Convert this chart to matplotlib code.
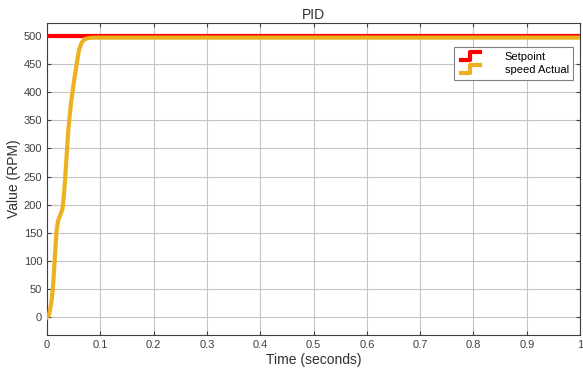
import numpy as np
import matplotlib.pyplot as plt
from matplotlib.legend_handler import HandlerLine2D
from matplotlib.lines import Line2D

plt.rcParams['font.family'] = ['Liberation Sans', 'DejaVu Sans']

# data
time = [0.0, 0.004, 0.008, 0.011, 0.015, 0.018, 0.021, 0.025, 0.029, 0.032, 0.034,
        0.037, 0.040, 0.045, 0.050, 0.056, 0.060, 0.065, 0.070, 0.077, 0.085, 0.1, 0.2, 1.0]
speed = [0, 5, 25, 50, 110, 155, 172, 182, 192, 220, 245,
         290, 333, 380, 415, 452, 475, 488, 494, 496, 497, 497, 497, 497]
setpoint_t = [0.0, 1.0]
setpoint = [500, 500]

x_ticks = [0, 0.1, 0.2, 0.3, 0.4, 0.5, 0.6, 0.7, 0.8, 0.9, 1]
x_labels = ['0', '0.1', '0.2', '0.3', '0.4', '0.5', '0.6', '0.7', '0.8', '0.9', '1']
y_ticks = list(range(0, 501, 50))


class StepHandler(HandlerLine2D):
    # legend handle drawn as a small step, like the scope legend
    def create_artists(self, legend, orig_handle, xdescent, ydescent,
                       width, height, fontsize, trans):
        x0 = -xdescent + width * 0.1
        x1 = x0 + width * 0.8
        xm = (x0 + x1) / 2
        yl = -ydescent
        yh = -ydescent + height
        line = Line2D([x0, xm, xm, x1], [yl, yl, yh, yh],
                      color=orig_handle.get_color(), lw=orig_handle.get_linewidth())
        line.set_transform(trans)
        return [line]


fig = plt.figure(figsize=(5.83, 3.74), dpi=100)
ax = fig.add_axes([0.0806, 0.104, 0.9144, 0.8345])

ax.plot(setpoint_t, setpoint, color='#FF0000', lw=3, label='Setpoint', zorder=3)
ax.plot(time, speed, color='#EDB120', lw=3, label='speed Actual', zorder=4)

ax.set_xlim(0, 1)
ax.set_ylim(-32, 523)
ax.set_xticks(x_ticks)
ax.set_xticklabels(x_labels)
ax.set_yticks(y_ticks)
ax.grid(True, color='#c4c4c4', lw=0.8)
ax.tick_params(direction='in', top=True, right=True, labelsize=8,
               colors='#404040', length=3)
for s in ax.spines.values():
    s.set_color('#404040')
    s.set_linewidth(0.8)

ax.set_title('PID', fontsize=10, color='#303030', pad=3)
ax.set_xlabel('Time (seconds)', fontsize=10, color='#303030', labelpad=2)
ax.set_ylabel('Value (RPM)', fontsize=10, color='#303030', labelpad=2)

leg = ax.legend(loc='upper right', bbox_to_anchor=(0.998, 0.94), fontsize=8,
                handler_map={Line2D: StepHandler()}, handlelength=2.2,
                handletextpad=2.0, fancybox=False, framealpha=1,
                edgecolor='#808080', borderpad=0.4, labelspacing=0.3)
leg.get_frame().set_linewidth(0.8)

plt.savefig('out.png', dpi=100)
